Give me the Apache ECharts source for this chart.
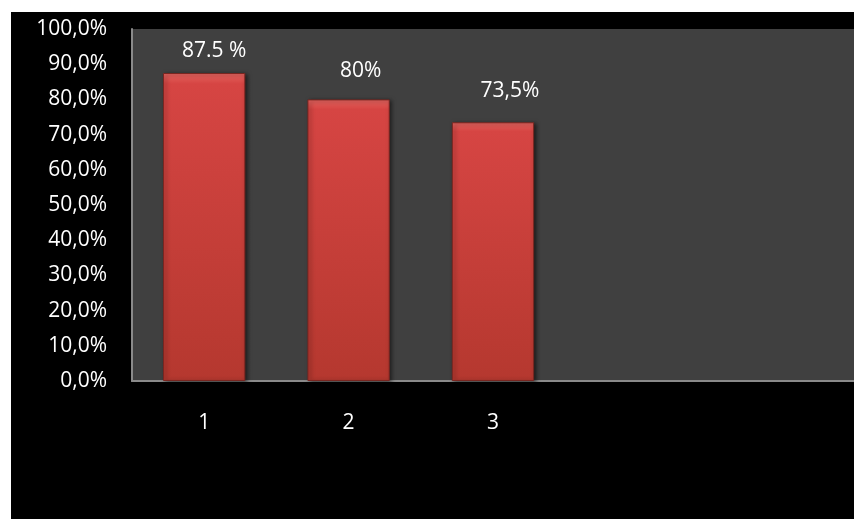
<!DOCTYPE html>
<html>
<head>
<meta charset="utf-8">
<script src="https://cdn.jsdelivr.net/npm/echarts@6/dist/echarts.min.js"></script>
<style>
  html, body { margin: 0; padding: 0; background: #ffffff; overflow: hidden; }
  #chart {
    position: absolute;
    left: 11px;
    top: 12px;
    width: 843px;
    height: 507px;
    background: #000000;
  }
</style>
</head>
<body>
<div id="chart"></div>
<script>
// categories (the last two slots are empty, as in the original sheet)
const categories = ['1', '2', '3', '', ''];
// percentages per category
const values = [87.5, 80, 73.5, null, null];
// data labels exactly as written on the chart
const valueLabels = ['87.5 %', '80%', '73,5%', '', ''];
// y axis range
const yMin = 0;
const yMax = 100;
const yStep = 10;

const FONT = 'Open Sans';
// labels were nudged by hand in the original, so shift each one a bit
const labelShift = [[10, 0], [12, -7], [17, -10], [0, 0], [0, 0]];

const chart = echarts.init(document.getElementById('chart'));

const option = {
  backgroundColor: '#000000',
  animation: false,
  grid: {
    left: 121,
    top: 17,
    bottom: 138,
    right: -8,
    show: true,
    backgroundColor: '#404040',
    borderWidth: 0
  },
  xAxis: {
    type: 'category',
    data: categories,
    axisLine: {lineStyle: {color: '#8a8a8a', width: 2}},
    axisTick: {show: false},
    axisLabel: {color: '#ffffff', fontFamily: FONT, fontSize: 21, margin: 32}
  },
  yAxis: {
    type: 'value',
    min: yMin,
    max: yMax,
    interval: yStep,
    axisLine: {show: true, lineStyle: {color: '#8a8a8a', width: 2}},
    axisTick: {show: false},
    splitLine: {show: false},
    axisLabel: {
      color: '#ffffff',
      fontFamily: FONT,
      fontSize: 21,
      margin: 25,
      formatter: (v) => v.toFixed(1).replace('.', ',') + '%'
    }
  },
  series: [
    {
      type: 'bar',
      data: values.map((v, i) => ({value: v, label: {offset: labelShift[i]}})),
      barWidth: '57%',
      itemStyle: {
        color: new echarts.graphic.LinearGradient(0, 0, 0, 1, [
          {offset: 0, color: '#e66560'},
          {offset: 0.035, color: '#d64543'},
          {offset: 1, color: '#b5382f'}
        ]),
        borderColor: '#7a2620',
        borderWidth: 1,
        shadowColor: 'rgba(0,0,0,0.55)',
        shadowBlur: 4,
        shadowOffsetX: 2,
        shadowOffsetY: 1
      },
      label: {
        show: true,
        position: 'top',
        distance: 11,
        color: '#ffffff',
        fontFamily: FONT,
        fontSize: 21,
        formatter: (p) => valueLabels[p.dataIndex]
      }
    }
  ]
};

chart.setOption(option);
</script>
</body>
</html>
